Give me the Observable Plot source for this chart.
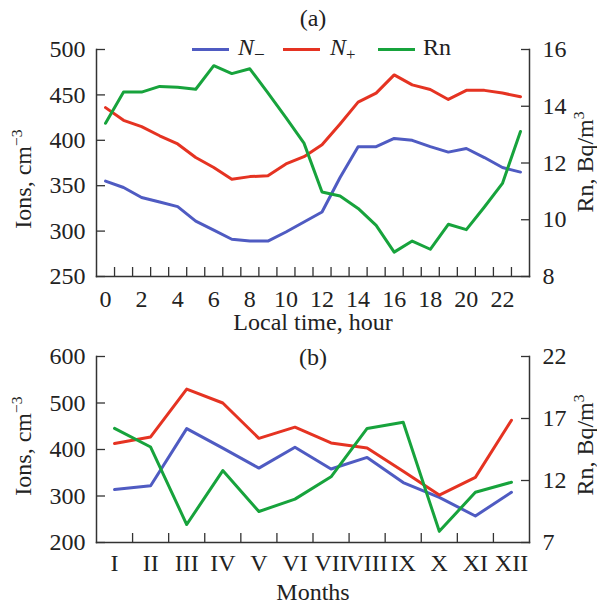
<!DOCTYPE html>
<html><head><meta charset="utf-8">
<script src="https://cdn.jsdelivr.net/npm/d3@7"></script>
<script src="https://cdn.jsdelivr.net/npm/@observablehq/plot@0.6"></script>
<style>
body{margin:0;background:#fff;}
#root{position:relative;width:597px;height:605px;font-family:"Liberation Serif","Times New Roman",serif;color:#222;overflow:hidden;}
#root svg{display:block;position:absolute;left:0;}
.abs{position:absolute;white-space:nowrap;line-height:1;font-size:24px;}
.rot{transform:translate(-50%,-50%) rotate(-90deg);}
.sw{position:absolute;height:3px;}
sup,sub{font-size:65%;line-height:0;}
</style></head><body><div id="root"></div>
<script>
// ---- data ----
const hours = [0,1,2,3,4,5,6,7,8,9,10,11,12,13,14,15,16,17,18,19,20,21,22,23];
const hourNminus = [355,348,337,332,327,311,301,291,289,289,299,310,321,359,393,393,402,400,393,387,391,381,370,365];
const hourNplus  = [436,422,415,405,396,381,370,357,360,361,374,382,395,418,442,452,472,461,456,445,455,455,452,448];
const hourRn     = [13.4,14.5,14.5,14.7,14.67,14.6,15.43,15.15,15.32,14.47,13.6,12.7,10.98,10.84,10.4,9.8,8.86,9.25,8.96,9.84,9.65,10.45,11.28,13.11];
const hourLabelTicks = [0,2,4,6,8,10,12,14,16,18,20,22];
const ionTicksA = [250,300,350,400,450,500];
const rnTicksA = [8,10,12,14,16];

const months = ["I","II","III","IV","V","VI","VII","VIII","IX","X","XI","XII"];
const monthNum = [1,2,3,4,5,6,7,8,9,10,11,12];
const monthNminus = [314,322,445,403,360,405,358,383,329,297,257,308];
const monthNplus  = [413,427,530,500,424,448,414,403,353,302,340,463];
const monthRn     = [16.2,14.7,8.45,12.8,9.5,10.5,12.3,16.2,16.7,7.9,11.05,11.86];
const ionTicksB = [200,300,400,500,600];
const rnTicksB = [7,12,17,22];

const colors = {neg:"#4f5bc2", pos:"#e53322", rn:"#17a33c"};
const axisColor = "#333";
const font = {fontFamily:"'Liberation Serif','Times New Roman',serif", fontSize:"24px", color:"#222", background:"#fff"};

// ---- panel (a) ----
const ionA = [250,500], rnA = [8,16];
const toLeftA = r => ionA[0] + (r - rnA[0]) * (ionA[1]-ionA[0])/(rnA[1]-rnA[0]);
const fromLeftA = v => rnA[0] + (v - ionA[0]) * (rnA[1]-rnA[0])/(ionA[1]-ionA[0]);
const halfHours = hours.slice(0,-1).map(h => h + 0.5);

const plotA = Plot.plot({
  width: 597, height: 340,
  marginLeft: 96, marginRight: 68, marginTop: 49, marginBottom: 64,
  style: font,
  x: {domain: [-0.5, 23.5]},
  y: {domain: ionA},
  marks: [
    Plot.frame({anchor:"left", stroke: axisColor, strokeWidth: 1.5}),
    Plot.frame({anchor:"bottom", stroke: axisColor, strokeWidth: 1.5}),
    Plot.frame({anchor:"right", stroke: axisColor, strokeWidth: 1.5}),
    Plot.axisY(ionTicksA, {anchor:"left", tickSize: 9, dx: 9, fill:"none", stroke: axisColor, strokeWidth: 1.3, label: null}),
    Plot.axisY(ionTicksA, {anchor:"left", tickSize: 0, tickPadding: 11, fontSize: 24, label: null}),
    Plot.axisY(rnTicksA.map(toLeftA), {anchor:"right", tickSize: 9, dx: -9, fill:"none", stroke: axisColor, strokeWidth: 1.3, label: null}),
    Plot.axisY(rnTicksA.map(toLeftA), {anchor:"right", tickSize: 0, tickPadding: 13, fontSize: 24, label: null, tickFormat: v => String(Math.round(fromLeftA(v)))}),
    Plot.axisX(halfHours, {anchor:"bottom", tickSize: 9, dy: -9, fill:"none", stroke: axisColor, strokeWidth: 1.3, label: null}),
    Plot.axisX(hourLabelTicks, {anchor:"bottom", tickSize: 0, tickPadding: 13, fontSize: 24, label: null}),
    Plot.lineY(hourNminus, {x: hours, stroke: colors.neg, strokeWidth: 3}),
    Plot.lineY(hourNplus, {x: hours, stroke: colors.pos, strokeWidth: 3}),
    Plot.lineY(hourRn.map(toLeftA), {x: hours, stroke: colors.rn, strokeWidth: 3}),
    Plot.text(["(a)"], {frameAnchor: "top", lineAnchor: "middle", dy: -31, fontSize: 24, fill: "#222"}),
    Plot.text(["Local time, hour"], {frameAnchor: "bottom", lineAnchor: "middle", dy: 46, fontSize: 24, fill: "#222"})
  ]
});
plotA.style.top = "0px";

// ---- panel (b) ----
const ionB = [200,600], rnB = [7,22];
const toLeftB = r => ionB[0] + (r - rnB[0]) * (ionB[1]-ionB[0])/(rnB[1]-rnB[0]);
const fromLeftB = v => rnB[0] + (v - ionB[0]) * (rnB[1]-rnB[0])/(ionB[1]-ionB[0]);
const monthBounds = monthNum.slice(0,-1).map(m => m + 0.5);

const plotB = Plot.plot({
  width: 597, height: 265,
  marginLeft: 96, marginRight: 68, marginTop: 16, marginBottom: 63,
  style: font,
  x: {domain: [0.5, 12.5]},
  y: {domain: ionB},
  marks: [
    Plot.frame({anchor:"left", stroke: axisColor, strokeWidth: 1.5}),
    Plot.frame({anchor:"bottom", stroke: axisColor, strokeWidth: 1.5}),
    Plot.frame({anchor:"right", stroke: axisColor, strokeWidth: 1.5}),
    Plot.axisY(ionTicksB, {anchor:"left", tickSize: 9, dx: 9, fill:"none", stroke: axisColor, strokeWidth: 1.3, label: null}),
    Plot.axisY(ionTicksB, {anchor:"left", tickSize: 0, tickPadding: 11, fontSize: 24, label: null}),
    Plot.axisY(rnTicksB.map(toLeftB), {anchor:"right", tickSize: 9, dx: -9, fill:"none", stroke: axisColor, strokeWidth: 1.3, label: null}),
    Plot.axisY(rnTicksB.map(toLeftB), {anchor:"right", tickSize: 0, tickPadding: 13, fontSize: 24, label: null, tickFormat: v => String(Math.round(fromLeftB(v)))}),
    Plot.axisX(monthBounds, {anchor:"bottom", tickSize: 9, dy: -9, fill:"none", stroke: axisColor, strokeWidth: 1.3, label: null}),
    Plot.axisX(monthNum, {anchor:"bottom", tickSize: 0, tickPadding: 11, fontSize: 24, label: null, tickFormat: m => months[m-1]}),
    Plot.lineY(monthNminus, {x: monthNum, stroke: colors.neg, strokeWidth: 3}),
    Plot.lineY(monthNplus, {x: monthNum, stroke: colors.pos, strokeWidth: 3}),
    Plot.lineY(monthRn.map(toLeftB), {x: monthNum, stroke: colors.rn, strokeWidth: 3}),
    Plot.text(["(b)"], {frameAnchor: "top", lineAnchor: "middle", dy: 1, fontSize: 24, fill: "#222"}),
    Plot.text(["Months"], {frameAnchor: "bottom", lineAnchor: "middle", dy: 50, fontSize: 24, fill: "#222"})
  ]
});
plotB.style.top = "340px";

const root = document.getElementById("root");
root.appendChild(plotA);
root.appendChild(plotB);

// ---- HTML overlays: rotated axis titles and legend ----
function addDiv(html, left, top, cls) {
  const d = document.createElement("div");
  d.className = "abs " + (cls || "");
  d.style.left = left + "px";
  d.style.top = top + "px";
  d.innerHTML = html;
  root.appendChild(d);
  return d;
}
const ionsLabel = 'Ions, cm<sup style="vertical-align:0.55em">−3</sup>';
const rnLabel = 'Rn, Bq/m<sup style="vertical-align:0.55em">3</sup>';
addDiv(ionsLabel, 23, 179, "rot");
addDiv(ionsLabel, 23, 446, "rot");
addDiv(rnLabel, 585, 162, "rot");
addDiv(rnLabel, 585, 445, "rot");

// legend
const legend = [
  {html:'<i>N</i><sub style="vertical-align:-0.3em;font-size:80%">−</sub>', color: colors.neg, x0: 192, x1: 229, tx: 238},
  {html:'<i>N</i><sub style="vertical-align:-0.3em;font-size:70%">+</sub>', color: colors.pos, x0: 283, x1: 320, tx: 330},
  {html:'Rn', color: colors.rn, x0: 378, x1: 415, tx: 423}
];
legend.forEach(l => {
  const s = document.createElement("div");
  s.className = "sw";
  s.style.left = l.x0 + "px";
  s.style.width = (l.x1 - l.x0) + "px";
  s.style.top = "47.5px";
  s.style.background = l.color;
  root.appendChild(s);
  addDiv(l.html, l.tx, 35);
});
</script>
</body></html>
